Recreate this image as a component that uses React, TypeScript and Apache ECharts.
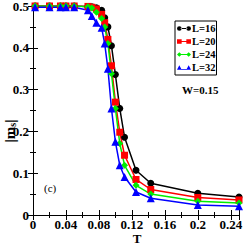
import React, { useEffect, useRef } from "react";
import * as echarts from "echarts";

const temps = [0.0025, 0.02, 0.0333, 0.04, 0.05, 0.0667, 0.0714, 0.0769, 0.0833, 0.087, 0.0909, 0.0952, 0.1, 0.1053, 0.1111, 0.125, 0.1429, 0.2, 0.25];
const mL16 = [0.5, 0.5, 0.5, 0.5, 0.5, 0.499, 0.498, 0.496, 0.49, 0.472, 0.45, 0.405, 0.336, 0.255, 0.186, 0.107, 0.076, 0.052, 0.043];
const mL20 = [0.5, 0.5, 0.5, 0.5, 0.5, 0.499, 0.497, 0.493, 0.48, 0.46, 0.42, 0.357, 0.27, 0.198, 0.143, 0.085, 0.061, 0.042, 0.036];
const mL24 = [0.5, 0.5, 0.5, 0.5, 0.5, 0.498, 0.495, 0.485, 0.47, 0.45, 0.41, 0.338, 0.255, 0.171, 0.119, 0.071, 0.05, 0.033, 0.029];
const mL32 = [0.497, 0.497, 0.497, 0.497, 0.497, 0.49, 0.476, 0.46, 0.448, 0.41, 0.35, 0.255, 0.175, 0.119, 0.091, 0.055, 0.04, 0.024, 0.021];
const seriesNames = ["L=16", "L=20", "L=24", "L=32"];
const colors = ["#000000", "#ff0000", "#00ee00", "#0000ff"];
const symbols = ["circle", "rect", "diamond", "triangle"];
const legendIcons = [
  "path://M0,5a5,5 0 1,0 10,0a5,5 0 1,0 -10,0z M20,5a5,5 0 1,0 10,0a5,5 0 1,0 -10,0z M8,4h14v2h-14z",
  "path://M0,0h10v10h-10z M20,0h10v10h-10z M8,4h14v2h-14z",
  "path://M5,0L10,5L5,10L0,5z M25,0L30,5L25,10L20,5z M8,4h14v2h-14z",
  "path://M5,0L10,10L0,10z M25,0L30,10L20,10z M8,8h14v2h-14z",
];

const FONT = "Liberation Serif";

export default function App() {
  const ref = useRef<HTMLDivElement>(null);
  useEffect(() => {
    const chart = echarts.init(ref.current!, null, { renderer: "svg" });
    const values = [mL16, mL20, mL24, mL32];
    const axisCommon = {
      axisLine: { lineStyle: { color: "#000", width: 1 } },
      axisTick: { inside: true, length: 5, lineStyle: { color: "#000" } },
      minorTick: { show: true, splitNumber: 2, length: 3, lineStyle: { color: "#000" } },
      splitLine: { show: false },
    };
    chart.setOption({
      animation: false,
      backgroundColor: "#ffffff",
      grid: { left: 33, right: 6, top: 6, bottom: 30, containLabel: false, outerBoundsMode: "none" },
      legend: {
        data: seriesNames.map((n, i) => ({ name: n, icon: legendIcons[i] })),
        orient: "vertical",
        left: 175,
        top: 21,
        itemWidth: 14,
        itemHeight: 5,
        itemGap: 2,
        padding: [2, 1, 2, 2],
        borderColor: "#000",
        borderWidth: 1,
        textStyle: { fontFamily: FONT, fontSize: 10.5, fontWeight: "bold", color: "#000", padding: [0, 0, 0, -4] },
      },
      xAxis: [
        {
          type: "value",
          min: 0,
          max: 0.25,
          interval: 0.04,
          axisLabel: {
            fontFamily: FONT, fontSize: 13, fontWeight: "bold", color: "#000", margin: 3, lineHeight: 12,
            showMaxLabel: false,
            formatter: (v: number) => String(Math.round(v * 100) / 100),
          },
          ...axisCommon,
        },
        {
          type: "value", position: "top", min: 0, max: 0.25, interval: 0.04,
          axisLabel: { show: false }, ...axisCommon,
        },
      ],
      yAxis: [
        {
          type: "value",
          min: 0,
          max: 0.5,
          interval: 0.1,
          axisLabel: {
            fontFamily: FONT, fontSize: 13, fontWeight: "bold", color: "#000", margin: 4,
            formatter: (v: number) => String(Math.round(v * 10) / 10),
          },
          ...axisCommon,
        },
        {
          type: "value", position: "right", min: 0, max: 0.5, interval: 0.1,
          axisLabel: { show: false }, ...axisCommon,
        },
      ],
      graphic: [
        {
          type: "text", x: 10, y: 131, rotation: Math.PI / 2,
          style: {
            text: "|m{s|s}|", fontFamily: FONT, fontSize: 15, fontWeight: "bold", fill: "#000",
            align: "center", verticalAlign: "middle",
            rich: { s: { fontFamily: FONT, fontSize: 10, fontWeight: "bold", fill: "#000", verticalAlign: "bottom" } },
          },
        },
        { type: "text", x: 137, y: 238, style: { text: "T", fontFamily: FONT, fontSize: 13, lineHeight: 13, fontWeight: "bold", fill: "#000", align: "center", verticalAlign: "middle" } },
        { type: "text", left: 182, top: 84, style: { text: "W=0.15", fontFamily: FONT, fontSize: 11, fontWeight: "bold", fill: "#000" } },
        { type: "text", left: 44, top: 182, style: { text: "(c)", fontFamily: FONT, fontSize: 11, fill: "#000" } },
      ],
      series: seriesNames.map((n, i) => ({
        name: n,
        type: "line",
        data: temps.map((t, j) => [t, values[i][j]]),
        symbol: symbols[i],
        symbolSize: i === 3 ? 8 : 7,
        showAllSymbol: true,
        itemStyle: { color: colors[i] },
        lineStyle: { color: colors[i], width: 1.5 },
        clip: true,
      })),
    });
    return () => chart.dispose();
  }, []);
  return <div ref={ref} style={{ position: "fixed", left: 0, top: 0, width: 245, height: 245 }} />;
}
